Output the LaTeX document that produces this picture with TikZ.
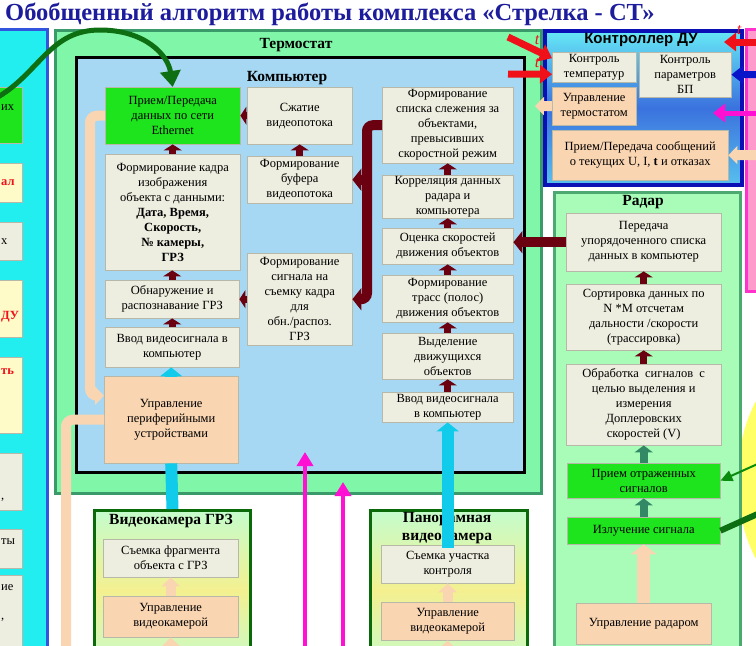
\documentclass[tikz,border=0pt]{standalone}
\usepackage{fontspec}
\setmainfont{Liberation Serif}
\newfontfamily\ctrlsans{Liberation Sans}
\usepackage{tikz}
\usetikzlibrary{arrows.meta, positioning, calc}
\definecolor{sttitle}{HTML}{1C1C9C}
\definecolor{stcyan}{HTML}{22EEF0}
\definecolor{stblueline}{HTML}{3355DD}
\definecolor{stthermo}{HTML}{80F7A8}
\definecolor{stthermodark}{HTML}{3A9A6A}
\definecolor{stcomp}{HTML}{A6D8F4}
\definecolor{stgray}{HTML}{EDEDE0}
\definecolor{stgrayline}{HTML}{B8B8A8}
\definecolor{stgreen}{HTML}{1EE41E}
\definecolor{stpeach}{HTML}{FAD5B2}
\definecolor{stdarkred}{HTML}{6A0010}
\definecolor{stcyanarr}{HTML}{10CCEA}
\definecolor{stmagenta}{HTML}{FF10D2}
\definecolor{stred}{HTML}{F0101A}
\definecolor{stnavy}{HTML}{0A10B4}
\definecolor{stctrltop}{HTML}{66E8F6}
\definecolor{stctrlmid}{HTML}{2C4AD6}
\definecolor{stradar}{HTML}{A8FCB8}
\definecolor{stradarline}{HTML}{4CAA70}
\definecolor{stcamline}{HTML}{0A6A0A}
\definecolor{stcamfill}{HTML}{C4FCCC}
\definecolor{stcamglow}{HTML}{F4F090}
\definecolor{stteal}{HTML}{338866}
\definecolor{stcurve}{HTML}{0E6E12}
\definecolor{stpink}{HTML}{FF9ACC}
\definecolor{stpinkline}{HTML}{FF33CC}
\definecolor{styellow}{HTML}{FFFF66}
\definecolor{stsoftyellow}{HTML}{FFFBC8}
\definecolor{stblue}{HTML}{0A14C8}
\tikzset{
  pbox/.style={draw=stgrayline, fill=stgray, align=center, inner sep=1pt, anchor=north west, font=\fontsize{12.5}{15}\selectfont},
  pgreen/.style={pbox, fill=stgreen},
  ppeach/.style={pbox, fill=stpeach},
  pside/.style={pbox, fill=stsoftyellow, anchor=north east},
  psz/.style 2 args={minimum width=#1, minimum height=#2},
  pframe/.style={anchor=north west, inner sep=0pt},
  pthermo/.style={pframe, draw=stthermodark, line width=3pt, fill=stthermo},
  pcomp/.style={pframe, draw=black, line width=3pt, fill=stcomp},
  pctrl/.style={pframe, draw=stnavy, line width=4pt, top color=stctrltop, bottom color=stctrltop!75!stctrlmid, middle color=stctrlmid!75!stctrltop},
  pradar/.style={pframe, draw=stradarline, line width=3pt, fill=stradar},
  pcam/.style={pframe, draw=stcamline, line width=3pt, top color=stcamfill, bottom color=stcamfill, middle color=stcamglow},
  phead/.style={font=\fontsize{15.5}{18}\selectfont\bfseries, inner sep=0pt, align=center},
  ptitle/.style={font=\fontsize{24.5}{28}\selectfont\bfseries, text=sttitle, inner sep=0pt, anchor=west},
  pfrag/.style={anchor=west, inner sep=0pt, font=\fontsize{12.5}{15}\selectfont},
  ptee/.style={font=\fontsize{16}{16}\selectfont\itshape, text=stred, inner sep=0pt},
  pflowR/.style={-{Triangle[width=18pt,length=6pt]}, line width=7pt, stdarkred},
  ppipeR/.style={-{Triangle[width=22pt,length=9pt]}, line width=10pt, stdarkred, rounded corners=6pt},
  pflowC/.style={-{Triangle[width=22pt,length=9pt]}, line width=12pt, stcyanarr},
  pflowP/.style={-{Triangle[width=18pt,length=9pt]}, line width=10pt, stpeach, rounded corners=7pt},
  pflowT/.style={-{Triangle[width=18pt,length=7pt]}, line width=8pt, stteal},
  pflowM/.style={-{Triangle[width=16pt,length=14pt]}, line width=4pt, stmagenta},
  pflowS/.style={-{Triangle[width=18pt,length=12pt]}, line width=7pt},
}

\begin{document}
\begin{tikzpicture}[x=1pt, y=-1pt]
  \useasboundingbox (0,0) rectangle (756,646);
  \clip (0,0) rectangle (756,646);

  \node[ptitle] (title) at (5,14) {Обобщенный алгоритм работы комплекса «Стрелка - СТ»};

  % left column (cut off)
  \node[pframe, draw=stblueline, line width=3pt, fill=stcyan, psz={56}{640}] (leftcol) at (-10,28) {};
  \node[pgreen, anchor=north east, psz={70}{56}] (lc1) at (22,87) {};
  \node[pside, psz={70}{39}] (lc2) at (22,163) {};
  \node[pbox, anchor=north east, psz={70}{38}] (lc3) at (22,222) {};
  \node[pside, psz={70}{57}] (lc4) at (22,280) {};
  \node[pside, psz={70}{76}] (lc5) at (22,357) {};
  \node[pbox, anchor=north east, psz={70}{57}] (lc6) at (22,453) {};
  \node[pbox, anchor=north east, psz={70}{39}] (lc7) at (22,529) {};
  \node[pbox, anchor=north east, psz={70}{80}] (lc8) at (22,575) {};
  \node[pfrag] (lc1t) at (1,108) {их};
  \node[pfrag, text=stred, font=\fontsize{12.5}{15}\selectfont\bfseries] (lc2t) at (1,183) {ал};
  \node[pfrag] (lc3t) at (1,242) {х};
  \node[pfrag, text=stred, font=\fontsize{12.5}{15}\selectfont\bfseries] (lc4t) at (1,317) {ДУ};
  \node[pfrag, text=stred, font=\fontsize{12.5}{15}\selectfont\bfseries] (lc5t) at (1,372) {ть};
  \node[pfrag] (lc6t) at (1,500) {,};
  \node[pfrag] (lc7t) at (1,542) {ты};
  \node[pfrag] (lc8t) at (1,588) {ие};
  \node[pfrag] (lc8b) at (1,620) {,};

  % thermostat with computer
  \node[pthermo, psz={486}{463}] (thermo) at (54,29) {};
  \node[phead] (thermolbl) at (296,45) {Термостат};
  \node[pcomp, psz={448}{415}] (comp) at (75,56) {};
  \node[phead] (complbl) at (287,78) {Компьютер};

  \node[pgreen, psz={135}{57}] (ethernet) at (105,87) {Прием/Передача\\данных по сети\\Ethernet};
  \node[pbox, psz={135}{116}] (fkadr) at (105,154) {Формирование кадра\\изображения\\объекта с данными:\\\textbf{Дата, Время,}\\\textbf{Скорость,}\\\textbf{№ камеры,}\\\textbf{ГРЗ}};
  \node[pbox, psz={134}{38}] (obnar) at (105,280) {Обнаружение и\\распознавание ГРЗ};
  \node[pbox, psz={134}{40}] (vvodL) at (105,327) {Ввод видеосигнала в\\компьютер};
  \node[ppeach, psz={134}{87}] (periph) at (104,376) {Управление\\периферийными\\устройствами};

  \node[pbox, psz={105}{57}] (szhatie) at (247,87) {Сжатие\\видеопотока};
  \node[pbox, psz={105}{47}] (bufer) at (247,156) {Формирование\\буфера\\видеопотока};
  \node[pbox, psz={105}{92}] (signal) at (247,253) {Формирование\\сигнала на\\съемку кадра\\для\\обн./распоз.\\ГРЗ};

  \node[pbox, psz={131}{76}] (spisok) at (382,87) {Формирование\\списка слежения за\\объектами,\\превысивших\\скоростной режим};
  \node[pbox, psz={131}{42}] (korrel) at (382,175) {Корреляция данных\\радара и\\компьютера};
  \node[pbox, psz={131}{36}] (ocenka) at (382,228) {Оценка скоростей\\движения объектов};
  \node[pbox, psz={131}{47}] (trassy) at (382,275) {Формирование\\трасс (полос)\\движения объектов};
  \node[pbox, psz={131}{46}] (vydel) at (382,333) {Выделение\\движущихся\\объектов};
  \node[pbox, psz={131}{30}] (vvodR) at (382,392) {Ввод видеосигнала\\в компьютер};

  % controller
  \node[pctrl, psz={197}{154}] (ctrl) at (543,29) {};
  \node[phead, font=\ctrlsans\fontsize{15}{18}\selectfont\bfseries] (ctrllbl) at (641,40) {Контроллер ДУ};
  \node[pbox, psz={84}{30}] (tempctl) at (552,52) {Контроль\\температур};
  \node[pbox, psz={92}{45}] (bp) at (639,52) {Контроль\\параметров\\БП};
  \node[ppeach, psz={84}{38}] (termctl) at (552,87) {Управление\\термостатом};
  \node[ppeach, psz={176}{50}] (msgs) at (552,130) {Прием/Передача сообщений\\о текущих U, I, \textbf{t} и отказах};

  % right edge
  \node[pframe, draw=stpinkline, line width=3pt, fill=stpink, psz={30}{262}] (pinkcol) at (745,28) {};
  \fill[styellow] (800,480) ellipse [x radius=62pt, y radius=112pt];

  % radar
  \node[pradar, psz={186}{470}] (radar) at (553,191) {};
  \node[phead] (radarlbl) at (643,202) {Радар};
  \node[pbox, psz={155}{58}] (peredacha) at (566,213) {Передача\\упорядоченного списка\\данных в компьютер};
  \node[pbox, psz={155}{66}] (sort) at (566,284) {Сортировка данных по\\N *M отсчетам\\дальности /скорости\\(трассировка)};
  \node[pbox, psz={155}{81}] (obrab) at (566,364) {Обработка~ сигналов~ с\\целью выделения и\\измерения\\Доплеровских\\скоростей (V)};
  \node[pgreen, psz={153}{35}] (priem) at (567,463) {Прием отраженных\\сигналов};
  \node[pgreen, psz={153}{27}] (izluch) at (567,517) {Излучение сигнала};
  \node[ppeach, psz={135}{41}] (radctl) at (576,603) {Управление радаром};

  % cameras
  \node[pcam, psz={156}{160}] (camgrz) at (93,509) {};
  \node[phead] (camgrzlbl) at (171,521) {Видеокамера ГРЗ};
  \node[pbox, psz={135}{38}] (sjemkaG) at (103,539) {Съемка фрагмента\\объекта с ГРЗ};
  \node[ppeach, psz={135}{41}] (uprG) at (103,596) {Управление\\видеокамерой};
  \node[pcam, psz={157}{160}] (campan) at (369,509) {};
  \node[phead] (campanlbl) at (447,528) {Панорамная\\видеокамера};
  \node[pbox, psz={133}{38}] (sjemkaP) at (381,545) {Съемка участка\\контроля};
  \node[ppeach, psz={133}{38}] (uprP) at (381,602) {Управление\\видеокамерой};

  % free ends
  \coordinate (curvestart) at (-2,97);
  \coordinate (pipeend) at (66,660);
  \coordinate (magA) at (305,660);
  \coordinate (magAtip) at (305,452);
  \coordinate (magB) at (343,660);
  \coordinate (magBtip) at (343,482);
  \coordinate (redL1) at (508,37);
  \coordinate (redL2) at (508,74);
  \coordinate (redR) at (762,42);
  \coordinate (redRtip) at (724,42);
  \coordinate (blueR) at (762,74.5);
  \coordinate (magR) at (762,113);
  \coordinate (magRtip) at (713,113);
  \coordinate (peachR) at (762,155);
  \coordinate (termtip) at (535,106);
  \coordinate (greenA) at (762,462);
  \coordinate (greenB) at (762,512);
  \coordinate (camGin) at (171,660);
  \coordinate (camPin) at (447.5,660);
  \coordinate (trunk) at ($(spisok.west)+(-15,0)$);

  % computer flows
  \draw[pflowR] (fkadr.north) -- (ethernet.south);
  \draw[pflowR] (obnar.north) -- (obnar.north |- fkadr.south);
  \draw[pflowR] (vvodL.north) -- (vvodL.north |- obnar.south);
  \draw[pflowR] (szhatie.west) -- (ethernet.east);
  \draw[pflowR] (bufer.north) -- (szhatie.south);
  \draw[pflowR] (signal.west) -- (signal.west -| obnar.east);
  \draw[pflowR] (korrel.north) -- (spisok.south);
  \draw[pflowR] (ocenka.north) -- (korrel.south);
  \draw[pflowR] (trassy.north) -- (ocenka.south);
  \draw[pflowR] (vydel.north) -- (trassy.south);
  \draw[pflowR] (vvodR.north) -- (vydel.south);
  \draw[ppipeR] (spisok.west) -- (trunk) |- (signal.east);
  \draw[ppipeR] (trunk |- bufer.east) -- (bufer.east);
  \draw[ppipeR] (peredacha.west) -- (peredacha.west -| ocenka.east);

  % video
  \draw[pflowC] (periph.north) -- (periph.north |- vvodL.south);
  \draw[stcyanarr, line width=12pt] (camgrz.north) -- (periph.south);
  \draw[pflowC] ([yshift=-3]sjemkaP.north) -- (sjemkaP.north |- vvodR.south);

  % peripheral lines
  \draw[pflowP] (ethernet.west) -- ++(-15,0) |- ([yshift=24]periph.west);
  \draw[pflowP, -] (periph.west) -| (pipeend);
  \draw[pflowP] (uprG.north) -- (sjemkaG.south);
  \draw[pflowP] (camGin) -- (uprG.south);
  \draw[pflowP] (uprP.north) -- (sjemkaP.south);
  \draw[pflowP] (camPin) -- (uprP.south);

  % power lines
  \draw[pflowM] (magA) -- (magAtip);
  \draw[pflowM] (magB) -- (magBtip);

  % controller links
  \draw[pflowS, stred] (redL1) -- ([yshift=9]tempctl.west);
  \draw[pflowS, stred] (redL2) -- ([yshift=-7]tempctl.west);
  \draw[pflowS, stred] (redR) -- (redRtip);
  \draw[pflowS, stblue] (blueR) -- (bp.east);
  \draw[pflowS, stmagenta, line width=5pt] (magR) -- (magRtip);
  \draw[pflowP] (peachR) -- (msgs.east);
  \draw[pflowP] (termctl.west) -- (termtip);
  \node[ptee] (teeA) at (537,40) {t};
  \node[ptee] (teeB) at (537,63) {t};
  \node[ptee] (teeC) at (739,30) {t};

  % radar flows
  \draw[pflowR] (sort.north) -- (peredacha.south);
  \draw[pflowR] (obrab.north) -- (sort.south);
  \draw[pflowT] (priem.north) -- (obrab.south);
  \draw[pflowT] (izluch.north) -- (priem.south);
  \draw[pflowP, line width=13pt, -{Triangle[width=26pt,length=10pt]}] (radctl.north) -- (radctl.north |- izluch.south);
  \draw[stcurve!80!green, line width=2pt, -{Triangle[width=11pt,length=12pt]}] (greenA) -- (priem.east);
  \draw[stcurve, line width=6pt] (izluch.east) -- (greenB);

  % network link
  \draw[stcurve, line width=5pt, -{Triangle[width=20pt,length=16pt]}] (curvestart) .. controls (40,72) and (50,30) .. (100,30) .. controls (145,30) and (168,55) .. (ethernet.north);
\end{tikzpicture}
\end{document}
